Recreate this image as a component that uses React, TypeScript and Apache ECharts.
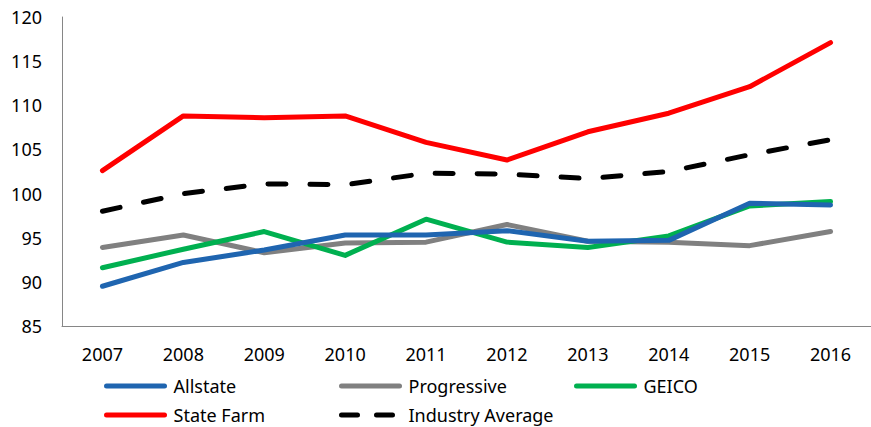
import React, { useEffect, useRef } from "react";
import * as echarts from "echarts";

const years = ["2007", "2008", "2009", "2010", "2011", "2012", "2013", "2014", "2015", "2016"];
const allstate = [89.5, 92.2, 93.6, 95.3, 95.3, 95.8, 94.6, 94.7, 98.9, 98.7];
const progressive = [93.9, 95.3, 93.3, 94.4, 94.5, 96.5, 94.6, 94.5, 94.1, 95.7];
const geico = [91.6, 93.7, 95.7, 93.0, 97.1, 94.5, 93.9, 95.2, 98.6, 99.1];
const stateFarm = [102.6, 108.8, 108.6, 108.8, 105.8, 103.8, 107.0, 109.1, 112.1, 117.1];
const industryAvg = [98.0, 100.0, 101.1, 101.0, 102.3, 102.2, 101.7, 102.5, 104.4, 106.1];

const FONT = "Noto Sans";

export default function App() {
  const ref = useRef<HTMLDivElement>(null);
  useEffect(() => {
    if (!ref.current) return;
    const chart = echarts.init(ref.current, undefined, { renderer: "svg" });
    const mk = (name: string, data: number[], color: string, z: number, dashed = false) => ({
      name,
      type: "line",
      data,
      symbol: "none",
      z,
      lineStyle: {
        color,
        width: 5,
        cap: "round",
        join: "round",
        type: dashed ? [18, 24] : "solid",
      },
      itemStyle: { color },
    });
    const legendItem = (name: string, left: number, top: number, dashed = false) => ({
      data: [name],
      left,
      top,
      padding: 0,
      itemWidth: 58,
      itemHeight: 14,
      itemGap: 0,
      itemStyle: { opacity: 0 },
      lineStyle: { width: 5, cap: "round", type: dashed ? [16, 19] : "solid" },
      textStyle: { fontFamily: FONT, fontSize: 18, color: "#000", padding: [0, 0, 0, 4] },
    });
    chart.setOption({
      animation: false,
      backgroundColor: "#fff",
      grid: { left: 62, right: -17, top: 17, bottom: 101, containLabel: false },
      legend: [
        legendItem("Allstate", 104, 377),
        legendItem("Progressive", 339, 377),
        legendItem("GEICO", 574, 377),
        legendItem("State Farm", 104, 406),
        legendItem("Industry Average", 339, 406, true),
      ],
      xAxis: {
        type: "category",
        data: years,
        boundaryGap: true,
        axisLine: { lineStyle: { color: "#868686", width: 1 } },
        axisTick: { show: false },
        axisLabel: { fontFamily: FONT, fontSize: 18, color: "#000", margin: 19 },
      },
      yAxis: {
        type: "value",
        min: 85,
        max: 120,
        interval: 5,
        splitLine: { show: false },
        axisLine: { show: true, lineStyle: { color: "#868686", width: 1 } },
        axisTick: { show: false },
        axisLabel: { fontFamily: FONT, fontSize: 18, color: "#000", margin: 20 },
      },
      series: [
        mk("Progressive", progressive, "#808080", 2),
        mk("GEICO", geico, "#00B050", 3),
        mk("Allstate", allstate, "#1F65B0", 4),
        mk("State Farm", stateFarm, "#FF0000", 5),
        mk("Industry Average", industryAvg, "#000000", 6, true),
      ],
    });
    return () => chart.dispose();
  }, []);
  return <div ref={ref} style={{ width: 871, height: 427, position: "absolute", left: 0, top: 0 }} />;
}
